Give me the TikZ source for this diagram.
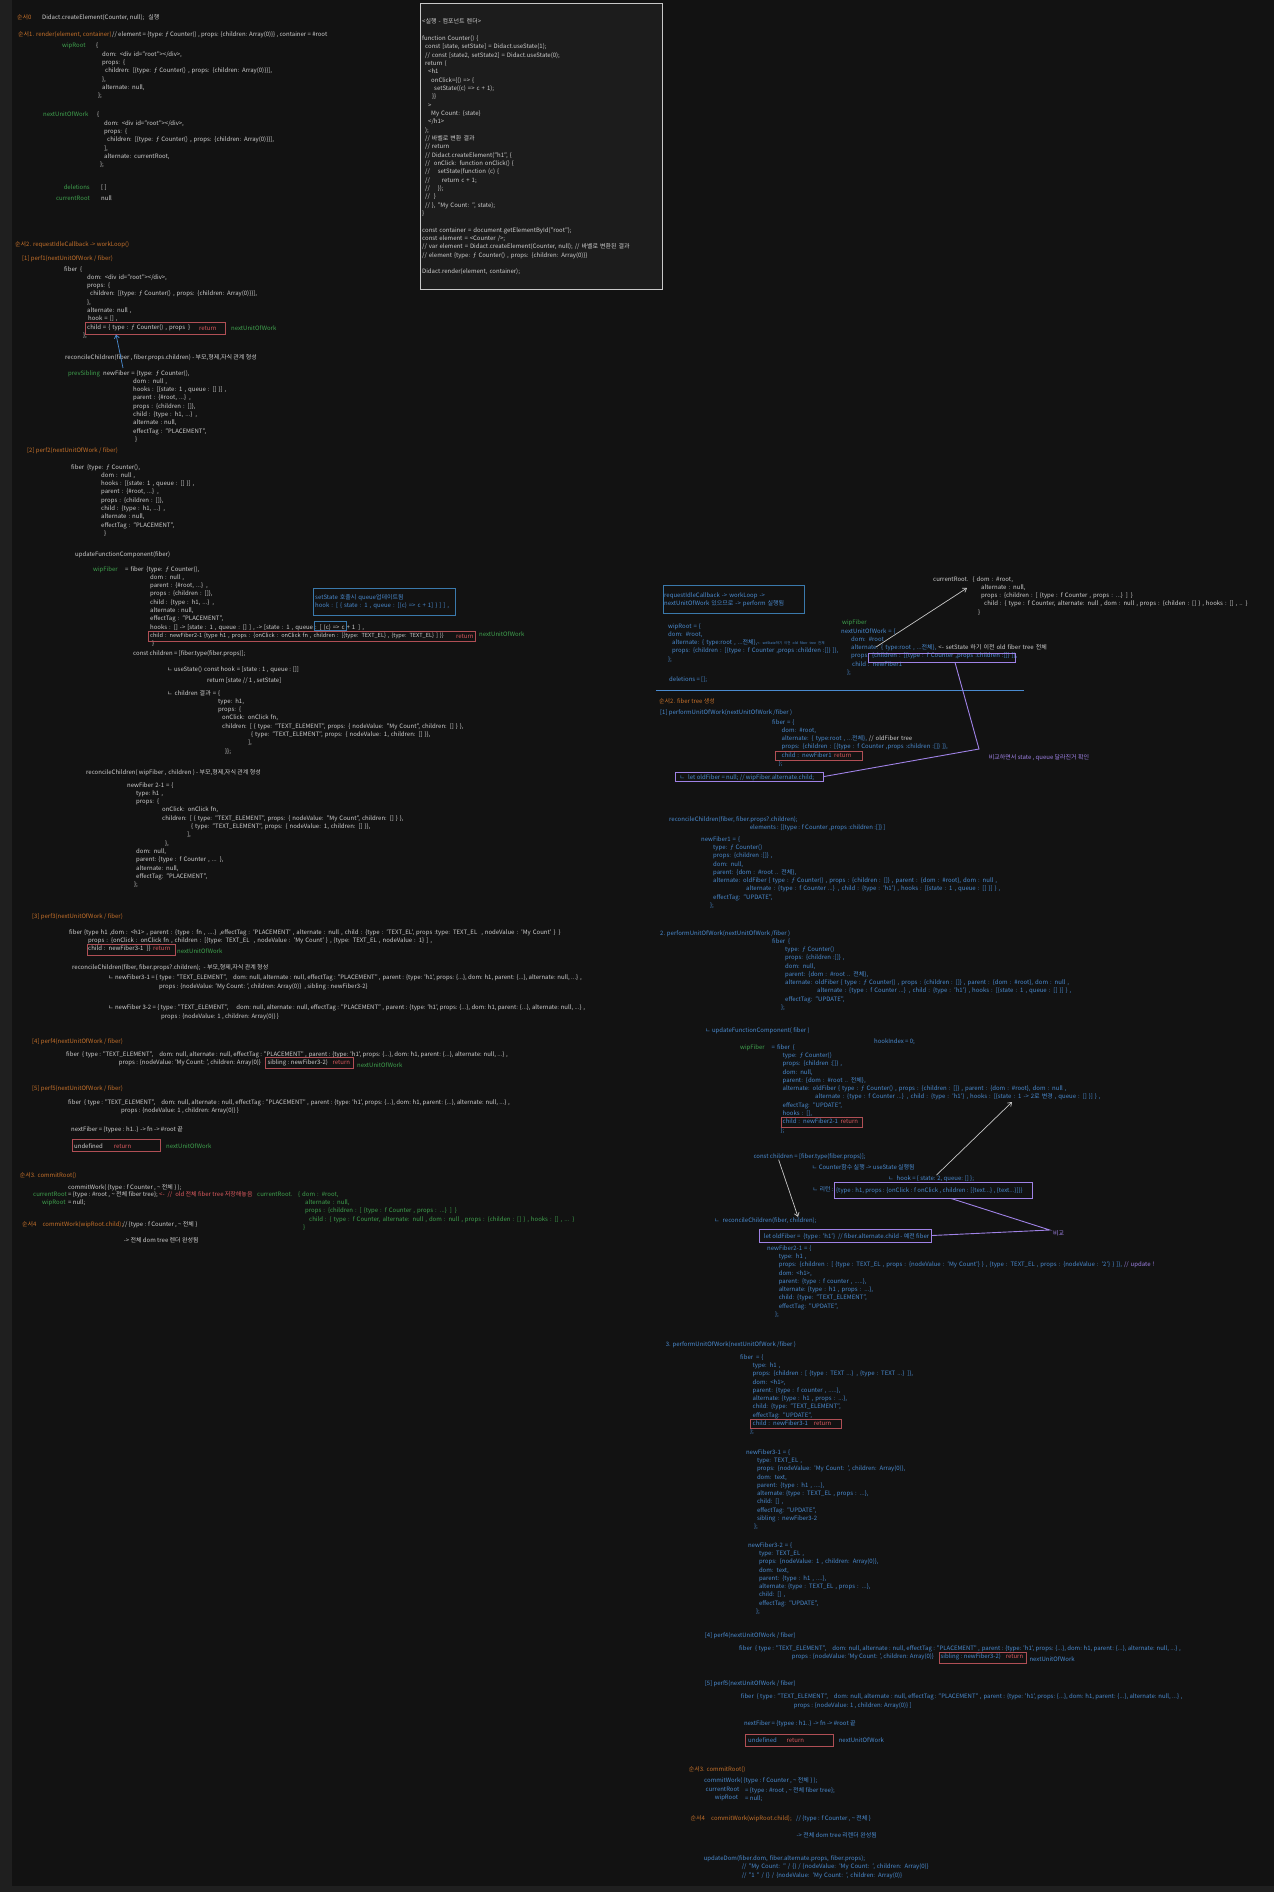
\documentclass[tikz,border=0pt]{standalone}
\usepackage{fontspec}
\setmainfont{Noto Sans CJK KR}
\usepackage{xcolor}
\usetikzlibrary{arrows.meta}

\definecolor{bgc}{HTML}{121212}
\definecolor{edgec}{HTML}{1F1F1F}
\definecolor{wtc}{HTML}{CFCFCF}
\definecolor{orgc}{HTML}{C4702A}
\definecolor{grnc}{HTML}{3FA24E}
\definecolor{bluc}{HTML}{4A8BD0}
\definecolor{rdtc}{HTML}{D9595E}
\definecolor{rdbc}{HTML}{B04F55}
\definecolor{purc}{HTML}{9F82E6}
\definecolor{boxb}{HTML}{3A79AC}
\definecolor{codebg}{HTML}{1C1C1C}
\definecolor{codeln}{HTML}{C8C8C8}
\definecolor{arrw}{HTML}{C8C8C8}

\newcommand{\indt}[1]{\hspace*{#1pt}}

\begin{document}
\begin{tikzpicture}[x=1pt, y=-1pt,
  font=\fontsize{6}{8.33}\selectfont,
  txt/.style={anchor=base west, inner sep=0pt, align=left, yshift=-2pt},
  blk/.style={text width=620pt},
  wt/.style={txt, text=wtc},
  hd/.style={txt, text=orgc},
  lb/.style={txt, text=grnc},
  bl/.style={txt, text=bluc},
  rt/.style={txt, text=rdtc},
  pu/.style={txt, text=purc},
  rbox/.style={draw=rdbc, line width=0.8pt, inner sep=0pt},
  pbox/.style={draw=purc, line width=0.9pt, inner sep=0pt},
  bbox/.style={draw=boxb, line width=0.7pt, inner sep=0pt},
  ar/.style={-{Straight Barb[length=3.5pt,width=5pt]}, line width=0.7pt},
]
\useasboundingbox (0,0) rectangle (1274,1892);
\fill[edgec] (0,0) rectangle (1274,1892);
\fill[bgc] (12,0) rectangle (1274,1886);

% --- code box ------------------------------------------------------------
\node[draw=codeln, fill=codebg, line width=0.8pt, minimum width=242pt,
      minimum height=286pt, inner sep=0pt] (codebox) at (541,146) {};
\node[wt, blk] (code) at (422,22) {<실행 - 컴포넌트 렌더>\\
\mbox{}\\
function Counter() \{\\
\indt{3}const [state, setState] = Didact.useState(1);\\
\indt{3}// const [state2, setState2] = Didact.useState(0);\\
\indt{3}return (\\
\indt{6}<h1\\
\indt{9}onClick=\{() => \{\\
\indt{12}setState((c) => c + 1);\\
\indt{10}\}\}\\
\indt{6}>\\
\indt{9}My Count: \{state\}\\
\indt{6}</h1>\\
\indt{3});\\
\indt{3}// 바벨로 변환 결과\\
\indt{3}// return\\
\indt{3}// Didact.createElement("h1", \{\\
\indt{3}//\indt{4}onClick: function onClick() \{\\
\indt{3}//\indt{8}setState(function (c) \{\\
\indt{3}//\indt{12}return c + 1;\\
\indt{3}//\indt{8}\});\\
\indt{3}//\indt{4}\}\\
\indt{3}// \}, "My Count: ", state);\\
\}\\
\mbox{}\\
const container = document.getElementById("root");\\
const element = <Counter />;\\
// var element = Didact.createElement(Counter, null); // 바벨로 변환된 결과\\
// element \{type: ƒ Counter() , props: \{children: Array(0)\}\}\\
\mbox{}\\
Didact.render(element, container);};

% --- left: 순서0 / 순서1 ---------------------------------------------------
\node[hd] (s0) at (17,18) {순서0};
\node[wt] (s0t) at (42,18) {Didact.createElement(Counter, null);\indt{4}실행};
\node[hd] (s1) at (18,35) {순서1. render(element, container)};
\node[wt] (s1t) at (112,35) {// element = \{type: ƒ Counter() , props: \{children: Array(0)\}\} , container = \#root};
\node[lb] (lwip) at (62,46) {wipRoot};
\node[wt, blk] (bwip) at (96,46) {\{\\
\indt{6}dom: <div id="root"></div>,\\
\indt{6}props: \{\\
\indt{9}children: [\{type: ƒ Counter() , props: \{children: Array(0)\}\}],\\
\indt{6}\},\\
\indt{6}alternate: null,\\
\indt{2}\};};
\node[lb] (lnext) at (43,115) {nextUnitOfWork};
\node[wt, blk] (bnext) at (97,115) {\{\\
\indt{7}dom: <div id="root"></div>,\\
\indt{7}props: \{\\
\indt{10}children: [\{type: ƒ Counter() , props: \{children: Array(0)\}\}],\\
\indt{7}],\\
\indt{7}alternate: currentRoot,\\
\indt{3}\};};
\node[lb, anchor=base east] (ldel) at (90,187) {deletions};
\node[wt] (vdel) at (101,187) {[ ]};
\node[lb, anchor=base east] (lcur) at (90,198) {currentRoot};
\node[wt] (vcur) at (101,198) {null};

% --- left: 순서2 perf1 ---------------------------------------------------
\node[hd] (s2) at (15,244) {순서2. requestIdleCallback -> workLoop()};
\node[hd] (p1) at (22,258) {[1] perf1(nextUnitOfWork / fiber)};
\node[wt, blk] (bfib1) at (64,269) {fiber\indt{3}\{\\
\indt{23}dom: <div id="root"></div>,\\
\indt{23}props: \{\\
\indt{26}children: [\{type: ƒ Counter() , props: \{children: Array(0)\}\}],\\
\indt{23}\},\\
\indt{23}alternate: null ,\\
\indt{24}hook = [] ,\\
\indt{23}child = \{ type : ƒ Counter() , props\indt{3}\}\\
\indt{19}\};};
\node[rbox, minimum width=140pt, minimum height=12pt] (ret1) at (155,328) {};
\node[rt] (rt1) at (199,328) {return};
\node[lb] (nu1) at (231,328) {nextUnitOfWork};
\node[wt] (rec1) at (65,357) {reconcileChildren(fiber , fiber.props.children) - 부모,형제,자식 관계 형성};
\node[lb] (lprev) at (68,373) {prevSibling};
\node[wt, blk] (bnewf) at (103,373) {newFiber = \{type: ƒ Counter(),\\
\indt{30}dom : null ,\\
\indt{30}hooks : [\{state: 1 , queue : [] \}] ,\\
\indt{30}parent : \{\#root, ...\} ,\\
\indt{30}props : \{children : []\},\\
\indt{30}child : \{type : h1, ...\} ,\\
\indt{30}alternate :\indt{2}null,\\
\indt{30}effectTag : "PLACEMENT",\\
\indt{32}\}};
\coordinate (a1) at (123,368);
\draw[ar, draw=bluc] (a1) -- ([xshift=-39pt]ret1.south);

% --- left: perf2 ---------------------------------------------------------
\node[hd] (p2) at (27,450) {[2] perf2(nextUnitOfWork / fiber)};
\node[wt, blk] (bfib2) at (71,467) {fiber\indt{3}\{type: ƒ Counter(),\\
\indt{30}dom : null ,\\
\indt{30}hooks : [\{state: 1 , queue : [] \}] ,\\
\indt{30}parent : \{\#root, ...\} ,\\
\indt{30}props : \{children : []\},\\
\indt{30}child : \{type : h1, ...\} ,\\
\indt{30}alternate :\indt{2}null,\\
\indt{30}effectTag : "PLACEMENT",\\
\indt{33}\}};
\node[wt] (upd1) at (75,554) {updateFunctionComponent(fiber)};
\node[lb] (lwip1) at (93,569) {wipFiber};
\node[wt, blk] (bwip1) at (125,569) {= fiber\indt{3}\{type: ƒ Counter(),\\
\indt{25}dom : null ,\\
\indt{25}parent : \{\#root, ...\} ,\\
\indt{25}props : \{children : []\},\\
\indt{25}child : \{type : h1, ...\} ,\\
\indt{25}alternate :\indt{2}null,\\
\indt{25}effectTag : "PLACEMENT",\\
\indt{25}hooks : [] -> [state : 1 ,\indt{2}queue : [] ] ,\indt{2}-> [state : 1 ,\indt{2}queue : [ (c) => c + 1\indt{3}] ,\\
\indt{25}{\fontsize{5.6}{8.33}\selectfont child : newFiber2-1 \{type h1 , props : \{onClick : onClick fn , children : [\{type: TEXT\_EL\} , \{type: TEXT\_EL\} ] \}\}}\\
\indt{27}\}};
\node[rbox, minimum width=327pt, minimum height=10pt] (ret2) at (311.7,636) {};
\node[rt] (rt2) at (456,636) {return};
\node[lb] (nu2) at (479,634) {nextUnitOfWork};
\node[bbox, minimum width=32pt, minimum height=9pt] (cbox) at (330,625.5) {};
\node[bbox, minimum width=142pt, minimum height=27pt] (setbox) at (384.5,601.5) {};
\node[bl, blk] (settx) at (315,597) {setState 호출시 queue업데이트됨\\
hook : [ \{ state : 1 , queue : [(c) => c + 1] \} ] ] ,};
\node[wt] (ch1) at (133,653) {const children = [fiber.type(fiber.props)];};
\node[wt] (us1) at (167,669) {ㄴ useState()};
\node[wt] (hk1) at (204,669) {const hook\indt{2}= [state : 1 ,\indt{2}queue : []]};
\node[wt] (rs1) at (207,680) {return [state // 1 , setState]};
\node[wt, blk] (chres) at (167,693) {ㄴ children 결과 = \{\\
\indt{51}type: h1,\\
\indt{51}props: \{\\
\indt{55}onClick: onClick fn,\\
\indt{55}children: [ \{ type: "TEXT\_ELEMENT", props: \{ nodeValue: "My Count", children: [] \} \},\\
\indt{84}\{ type: "TEXT\_ELEMENT", props: \{ nodeValue: 1, children: [] \}\},\\
\indt{81}],\\
\indt{58}\}\};};
\node[wt] (rec2) at (86,772) {reconcileChildren( wipFiber ,\indt{2}children ) - 부모,형제,자식 관계 형성};
\node[wt, blk] (bnf21) at (127,785) {newFiber 2-1 = \{\\
\indt{9}type:\indt{2}h1 ,\\
\indt{9}props: \{\\
\indt{35}onClick: onClick fn,\\
\indt{35}children: [ \{ type: "TEXT\_ELEMENT", props: \{ nodeValue: "My Count", children: [] \} \},\\
\indt{64}\{ type: "TEXT\_ELEMENT", props: \{ nodeValue: 1, children: [] \}\},\\
\indt{60}],\\
\indt{38}\},\\
\indt{9}dom: null,\\
\indt{9}parent:\indt{2}\{type : f Counter , ... \},\\
\indt{9}alternate: null,\\
\indt{9}effectTag: "PLACEMENT",\\
\indt{7}\};};

% --- left: perf3 -- perf5 ------------------------------------------------
\node[hd] (p3) at (32,916) {[3] perf3(nextUnitOfWork / fiber)};
\node[wt, blk] (bp3) at (69,932) {fiber \{type h1 ,dom : <h1> ,\indt{2}parent : \{type : fn , ....\} ,effectTag : 'PLACEMENT' , alternate : null , child : \{type : 'TEXT\_EL', props :type: TEXT\_EL\indt{4}, nodeValue : 'My Count' \}\indt{3}\}\\
\indt{19}props : \{onClick : onClick fn , children : [\{type: TEXT\_EL\indt{4}, nodeValue : 'My Count' \} , \{type: TEXT\_EL , nodeValue : 1\} ] ,\\
\indt{19}child : newFiber3-1\indt{3}\}\}};
\node[rbox, minimum width=88pt, minimum height=11pt] (ret3) at (131.4,949.5) {};
\node[rt] (rt3) at (153,948) {return};
\node[lb] (nu3) at (177,951) {nextUnitOfWork};
\node[wt] (rec3) at (72,967) {reconcileChildren(fiber, fiber.props?.children);\indt{3}- 부모,형제,자식 관계 형성};
\node[wt] (nf31a) at (108,977) {ㄴ newFiber3-1 = \{ type : "TEXT\_ELEMENT",\indt{6}dom: null, alternate :\indt{2}null, effectTag : "PLACEMENT" ,\indt{2}parent :\indt{2}\{type: 'h1', props: \{...\}, dom: h1, parent: \{...\}, alternate: null, ...\} ,};
\node[wt] (nf31b) at (159,986) {props :\indt{2}\{nodeValue: 'My Count: ', children: Array(0)\}\indt{3}, sibling : newFiber3-2\}};
\node[wt] (nf32a) at (108,1007) {ㄴ newFiber 3-2 = \{ type : "TEXT\_ELEMENT",\indt{8}dom: null, alternate :\indt{2}null, effectTag : "PLACEMENT" ,\indt{2}parent :\indt{2}\{type: 'h1', props: \{...\}, dom: h1, parent: \{...\}, alternate: null, ...\} ,};
\node[wt] (nf32b) at (161,1016) {props :\indt{2}\{nodeValue: 1 , children: Array(0)\} \}};
\node[hd] (p4) at (32,1041) {[4] perf4(nextUnitOfWork / fiber)};
\node[wt] (p4a) at (66,1054) {fiber\indt{3}\{ type : "TEXT\_ELEMENT",\indt{6}dom: null, alternate :\indt{2}null, effectTag : "PLACEMENT" ,\indt{2}parent :\indt{2}\{type: 'h1', props: \{...\}, dom: h1, parent: \{...\}, alternate: null, ...\} ,};
\node[wt] (p4b) at (118.6,1062) {props :\indt{2}\{nodeValue: 'My Count: ', children: Array(0)\}};
\node[wt] (p4c) at (267.4,1062) {sibling : newFiber3-2)};
\node[rbox, minimum width=88pt, minimum height=11pt] (ret4) at (309,1062.5) {};
\node[rt] (rt4) at (332.5,1062) {return};
\node[lb] (nu4) at (357,1065) {nextUnitOfWork};
\node[hd] (p5) at (32,1088) {[5] perf5(nextUnitOfWork / fiber)};
\node[wt] (p5a) at (68,1102) {fiber\indt{3}\{ type : "TEXT\_ELEMENT",\indt{6}dom: null, alternate :\indt{2}null, effectTag : "PLACEMENT" ,\indt{2}parent :\indt{2}\{type: 'h1', props: \{...\}, dom: h1, parent: \{...\}, alternate: null, ...\} ,};
\node[wt] (p5b) at (121,1110) {props :\indt{2}\{nodeValue: 1 , children: Array(0)\} \}};
\node[wt] (nxf) at (71,1129) {nextFiber = \{typee : h1..\}\indt{2}-> fn -> \#root 끝};
\node[rbox, minimum width=87.5pt, minimum height=12pt] (ret5) at (116.2,1145) {};
\node[wt] (und1) at (74,1146) {undefined};
\node[rt] (rt5) at (113.6,1146) {return};
\node[lb] (nu5) at (166,1146) {nextUnitOfWork};

% --- left: 순서3 / 순서4 ---------------------------------------------------
\node[hd] (s3) at (19.6,1175) {순서3. commitRoot()};
\node[wt] (cw1) at (68,1187) {commitWork( \{type : f Counter , \textasciitilde{} 전체 \} );};
\node[lb] (lcr1) at (33,1194) {currentRoot};
\node[wt] (vcr1) at (68,1194) {= \{type : \#root , \textasciitilde{} 전체 fiber tree\};};
\node[rt] (old1) at (159,1194) {<-\indt{3}//\indt{3}old 전체 fiber tree 저장해놓음};
\node[lb] (lcr2) at (257,1194) {currentRoot.};
\node[lb, blk] (bcr2) at (298,1194) {\{ dom : \#root,\\
\indt{7}alternate : null,\\
\indt{7}props : \{children : [ \{type : f Counter , props : ...\} ] \}\\
\indt{11}child : \{ type : f Counter, alternate: null , dom : null , props : \{childen : [] \} , hooks : [] , ... \}\\
\indt{5}\}};
\node[lb] (lwr1) at (42,1202) {wipRoot};
\node[wt] (vwr1) at (68,1202) {= null;};
\node[hd] (s4) at (22,1224) {순서4\indt{6}commitWork(wipRoot.child);};
\node[wt] (s4t) at (122.5,1224) {// \{type : f Counter , \textasciitilde{} 전체 \}};
\node[wt] (done1) at (123.6,1240) {-> 전체 dom tree 렌더 완성됨};

% --- right: setState 이후 -------------------------------------------------
\node[bbox, minimum width=141pt, minimum height=28pt] (ricb) at (733.5,599) {};
\node[bl, blk] (rict) at (664,595) {requestIdleCallback -> workLoop ->\\
nextUnitOfWork 있으므로 -> perform 실행됨};
\node[bl, blk] (bwr2) at (668,626) {wipRoot = \{\\
dom: \#root,\\
\indt{4}alternate: \{ type:root , ...전체\},{\fontsize{3.5}{4}\selectfont <- setState하기 이전 old fiber tree 전체}\\
\indt{4}props: \{children : [\{type : f Counter ,props :children :[]\} ]\},\\
\};};
\node[bl] (del2) at (669,679) {deletions = [];};
\draw[draw=bluc, line width=1pt] (656,690) -- (1024,690);
\node[lb] (lwipf) at (842,622) {wipFiber};
\node[bl, blk] (bnuw) at (841,631) {nextUnitOfWork = \{\\
\indt{10}dom: \#root\\
\indt{10}alternate: \{ type:root , ...전체\}, \textcolor{wtc}{<- setState 하기 이전 old fiber tree 전체}\\
\indt{10}props: \{children : [\{type : f Counter ,props :children :[]\} ]\},\\
\indt{11}child : newFiber1\\
\indt{6}\};};
\node[pbox, minimum width=147pt, minimum height=9pt] (pbox1) at (941.6,657.5) {};
\node[wt, blk] (curR) at (933,579) {currentRoot.\indt{4}\{ dom : \#root,\\
\indt{48}alternate : null,\\
\indt{48}props : \{children : [ \{type : f Counter , props : ...\} ] \}\\
\indt{51}child : \{ type : f Counter, alternate: null , dom : null , props : \{childen : [] \} , hooks : [] , .. \}\\
\indt{45}\}};
\coordinate (a2s) at (876,647);
\coordinate (a2e) at (967,588);
\draw[ar, draw=arrw] (a2s) -- (a2e);

% --- right: 순서2 fiber tree 생성 ------------------------------------------
\node[hd] (s2r) at (659,701) {순서2. fiber tree 생성};
\node[bl] (pr1) at (660,712) {[1] performUnitOfWork(nextUnitOfWork /fiber )};
\node[bl, blk] (brf1) at (772,722) {fiber = \{\\
\indt{9.5}dom: \#root,\\
\indt{9.5}alternate: \{ type:root , ...전체\}, \textcolor{wtc}{// oldFiber tree}\\
\indt{9.5}props: \{children : [\{type : f Counter ,props :children :[]\} ]\},\\
\indt{9.5}child : newFiber1\\
\indt{6.6}\};};
\node[rbox, minimum width=87pt, minimum height=9pt] (ret6) at (818.8,755.5) {};
\node[rt] (rt6) at (834,755) {return};
\node[pbox, minimum width=148pt, minimum height=9pt] (pbox2) at (749.6,776.5) {};
\node[bl] (old2) at (679.5,777) {ㄴ\indt{3}let oldFiber = null; // wipFiber.alternate.child;};
\coordinate (pv1) at (979,749);
\draw[draw=purc, line width=0.9pt] ([xshift=13.4pt]pbox1.south) -- (pv1) -- (pbox2.east);
\node[pu] (cmp1) at (988.6,757) {비교하면서 state , queue 달라진거 확인};
\node[bl] (rec4) at (669,819) {reconcileChildren(fiber, fiber.props?.children);};
\node[bl] (elm) at (749.7,827) {elements : [\{type : f Counter ,props :children :[]\} ]};
\node[bl, blk] (bnf1) at (701,839) {newFiber1 = \{\\
\indt{12}type: ƒ Counter()\\
\indt{12}props: \{children :[]\} ,\\
\indt{12}dom: null,\\
\indt{12}parent: \{dom : \#root .. 전체\},\\
\indt{12}alternate: oldFiber \{ type : ƒ Counter() , props : \{children : []\} , parent : \{dom : \#root\}, dom : null ,\\
\indt{45}alternate : \{type : f Counter ...\} , child : \{type : 'h1'\} , hooks : [\{state : 1 , queue : [] \}] \} ,\\
\indt{12}effectTag: "UPDATE",\\
\indt{9}\};};
\node[bl] (pr2) at (660,933) {2. performUnitOfWork(nextUnitOfWork /fiber )};
\node[bl, blk] (brf2) at (772,941) {fiber\indt{3}\{\\
\indt{13}type: ƒ Counter()\\
\indt{13}props: \{children :[]\} ,\\
\indt{13}dom: null,\\
\indt{13}parent: \{dom : \#root .. 전체\},\\
\indt{13}alternate: oldFiber \{ type : ƒ Counter() , props : \{children : []\} , parent : \{dom : \#root\}, dom : null ,\\
\indt{45}alternate : \{type : f Counter ...\} , child : \{type : 'h1'\} , hooks : [\{state : 1 , queue : [] \}] \} ,\\
\indt{13}effectTag: "UPDATE",\\
\indt{9}\};};
\node[bl] (upd2) at (705,1030) {ㄴ updateFunctionComponent( fiber )};
\node[bl] (hidx) at (874,1041) {hookIndex = 0;};
\node[lb] (lwip2) at (740,1047) {wipFiber};
\node[bl, blk] (bwip2) at (771.5,1047) {= fiber\indt{3}\{\\
\indt{11}type: ƒ Counter()\\
\indt{11}props: \{children :[]\} ,\\
\indt{11}dom: null,\\
\indt{11}parent: \{dom : \#root .. 전체\},\\
\indt{11}alternate: oldFiber \{ type : ƒ Counter() , props : \{children : []\} , parent : \{dom : \#root\}, dom : null ,\\
\indt{43.5}alternate : \{type : f Counter ...\} , child : \{type : 'h1'\} , hooks : [\{state : 1 -> 2로 변경 , queue : [] \}] \} ,\\
\indt{11}effectTag: "UPDATE",\\
\indt{11}hooks : [],\\
\indt{11}child : newFiber2-1\\
\indt{9}\};};
\node[rbox, minimum width=80.6pt, minimum height=10pt] (ret7) at (822,1122) {};
\node[rt] (rt7) at (840.5,1121) {return};
\node[bl] (cch) at (753.3,1156) {const children = [fiber.type(fiber.props)];};
\node[bl] (cnt) at (811.7,1167) {ㄴ Counter함수 실행 -> useState 실행됨};
\node[bl] (hk2) at (888,1178) {ㄴ\indt{3}hook = \{ state: 2, queue: [] \};};
\node[bl] (rtn) at (812.5,1189) {ㄴ 리턴 :};
\node[pbox, minimum width=198pt, minimum height=16pt] (pbox3) at (933.7,1190) {};
\node[bl] (rtnv) at (836,1190) {\{type : h1, props : \{onClick : f onClick , children : [\{text...\} , \{text...\}]\}\}};
\coordinate (a3e) at (1012,1102);
\draw[ar, draw=arrw] ([xshift=48.5pt]hk2.north west) -- (a3e);
\node[bl] (rc3) at (714,1220) {ㄴ\indt{3}reconcileChildren(fiber, children);};
\draw[ar, draw=arrw] ([xshift=25.3pt]cch.south west) -- ([xshift=84pt]rc3.north west);
\node[pbox, minimum width=172pt, minimum height=13pt] (pbox4) at (845.5,1235.5) {};
\node[bl] (old3) at (763.6,1236) {let oldFiber =\indt{3}\{type : 'h1'\}\indt{3}// fiber.alternate.child - 예전 fiber};
\coordinate (pv2) at (1049.8,1230);
\draw[draw=purc, line width=0.9pt] ([xshift=17.3pt]pbox3.south) -- (pv2) -- (pbox4.east);
\node[pu] (cmp2) at (1053,1233) {비교};
\node[bl, blk] (bnf21r) at (767,1248) {newFiber2-1 = \{\\
\indt{11.6}type: h1 ,\\
\indt{11.6}props: \{children : [ \{type : TEXT\_EL , props : \{nodeValue : 'My Count'\} \} , \{type : TEXT\_EL , props : \{nodeValue : '2'\} \} ]\}, \textcolor{purc}{// update !}\\
\indt{11.6}dom: <h1>,\\
\indt{11.6}parent: \{type : f counter , .....\},\\
\indt{11.6}alternate:\indt{2}\{type : h1 , props : ...\},\\
\indt{11.6}child: \{type: "TEXT\_ELEMENT",\\
\indt{11.6}effectTag: "UPDATE",\\
\indt{8}\};};
\node[bl] (pr3) at (665.7,1344) {3. performUnitOfWork(nextUnitOfWork /fiber )};
\node[bl, blk] (brf3) at (740,1357) {fiber\indt{3}= \{\\
\indt{12.5}type: h1 ,\\
\indt{12.5}props: \{children : [ \{type : TEXT ...\} , \{type : TEXT ...\} ]\},\\
\indt{12.5}dom: <h1>,\\
\indt{12.5}parent: \{type : f counter , .....\},\\
\indt{12.5}alternate:\indt{2}\{type : h1 , props : ...\},\\
\indt{12.5}child: \{type: "TEXT\_ELEMENT",\\
\indt{12.5}effectTag: "UPDATE",\\
\indt{12.5}child : newFiber3-1\\
\indt{10}\};};
\node[rbox, minimum width=91pt, minimum height=9pt] (ret8) at (795.9,1423.5) {};
\node[rt] (rt8) at (813.7,1423) {return};
\node[bl, blk] (bnf31r) at (745.8,1452) {newFiber3-1 = \{\\
\indt{11}type: TEXT\_EL ,\\
\indt{11}props: \{nodeValue: 'My Count: ', children: Array(0)\},\\
\indt{11}dom: text,\\
\indt{11}parent: \{type : h1 , ....\},\\
\indt{11}alternate:\indt{2}\{type : TEXT\_EL , props : ...\},\\
\indt{11}child: [] ,\\
\indt{11}effectTag: "UPDATE",\\
\indt{11}sibling : newFiber3-2\\
\indt{8}\};};
\node[bl, blk] (bnf32r) at (747.8,1545) {newFiber3-2 = \{\\
\indt{11}type: TEXT\_EL ,\\
\indt{11}props: \{nodeValue: 1 , children: Array(0)\},\\
\indt{11}dom: text,\\
\indt{11}parent: \{type : h1 , ....\},\\
\indt{11}alternate:\indt{2}\{type : TEXT\_EL , props : ...\},\\
\indt{11}child: [] ,\\
\indt{11}effectTag: "UPDATE",\\
\indt{8}\};};

% --- right: perf4 / perf5 / commit ---------------------------------------
\node[bl] (rp4) at (704.7,1635) {[4] perf4(nextUnitOfWork / fiber)};
\node[bl] (rp4a) at (739,1648) {fiber\indt{3}\{ type : "TEXT\_ELEMENT",\indt{6}dom: null, alternate :\indt{2}null, effectTag : "PLACEMENT" ,\indt{2}parent :\indt{2}\{type: 'h1', props: \{...\}, dom: h1, parent: \{...\}, alternate: null, ...\} ,};
\node[bl] (rp4b) at (791.6,1656) {props :\indt{2}\{nodeValue: 'My Count: ', children: Array(0)\}};
\node[bl] (rp4c) at (940.4,1656) {sibling : newFiber3-2)};
\node[rbox, minimum width=87pt, minimum height=11pt] (ret9) at (982.5,1657.5) {};
\node[rt] (rt9) at (1005.6,1656) {return};
\node[bl] (rnu4) at (1029.3,1659) {nextUnitOfWork};
\node[bl] (rp5) at (704.7,1683) {[5] perf5(nextUnitOfWork / fiber)};
\node[bl] (rp5a) at (740.7,1696) {fiber\indt{3}\{ type : "TEXT\_ELEMENT",\indt{6}dom: null, alternate :\indt{2}null, effectTag : "PLACEMENT" ,\indt{2}parent :\indt{2}\{type: 'h1', props: \{...\}, dom: h1, parent: \{...\}, alternate: null, ...\} ,};
\node[bl] (rp5b) at (793.6,1705) {props :\indt{2}\{nodeValue: 1 , children: Array(0)\} ]};
\node[bl] (rnxf) at (743.8,1723) {nextFiber = \{typee : h1..\}\indt{2}-> fn -> \#root 끝};
\node[rbox, minimum width=87.6pt, minimum height=12pt] (ret10) at (789.2,1740) {};
\node[bl] (und2) at (748,1740) {undefined};
\node[rt] (rt10) at (786.5,1740) {return};
\node[bl] (rnu5) at (838.6,1740) {nextUnitOfWork};
\node[hd] (rs3) at (688.6,1769) {순서3. commitRoot()};
\node[bl] (rcw) at (704,1780) {commitWork( \{type : f Counter , \textasciitilde{} 전체 \} );};
\node[bl] (rcr) at (705.5,1789) {currentRoot};
\node[bl] (rcrv) at (745,1790) {= \{type : \#root , \textasciitilde{} 전체 fiber tree\};};
\node[bl] (rwr) at (714.6,1797) {wipRoot};
\node[bl] (rwrv) at (745,1798) {= null;};
\node[hd] (rs4) at (690.5,1818) {순서4\indt{6}commitWork(wipRoot.child);};
\node[bl] (rs4t) at (796,1818) {// \{type : f Counter , \textasciitilde{} 전체 \}};
\node[bl] (done2) at (796.3,1835) {-> 전체 dom tree 리렌더 완성됨};
\node[bl, blk] (updom) at (703.6,1858) {updateDom(fiber.dom, fiber.alternate.props, fiber.props);\\
\indt{38}// "My Count: " / \{\} / \{nodeValue: 'My Count: ', children: Array(0)\}\\[1pt]
\indt{38}// "1 " / \{\} / \{nodeValue: 'My Count: ', children: Array(0)\}};
\end{tikzpicture}
\end{document}
